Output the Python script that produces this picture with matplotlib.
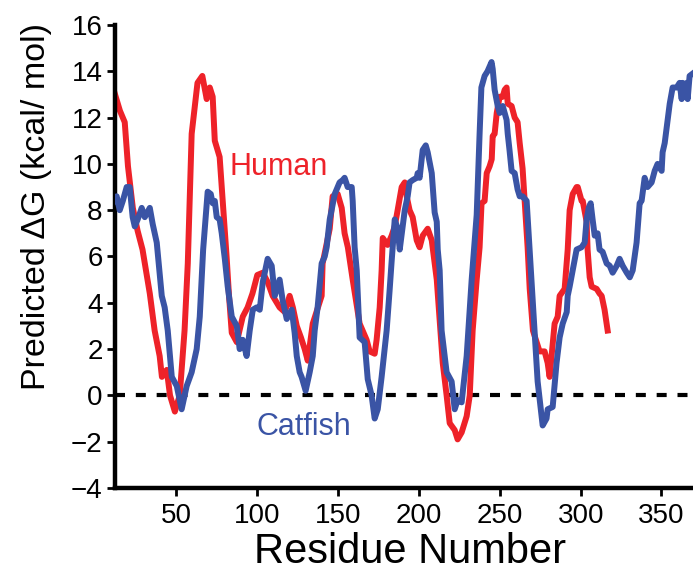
import matplotlib
matplotlib.use("Agg")
import matplotlib.pyplot as plt

plt.rcParams['font.family'] = ['Liberation Sans', 'DejaVu Sans']

# Human (red) trace, residue vs predicted dG
human_x = [12, 15, 18, 20, 23, 26, 29, 33.5, 36.5, 39.6, 41, 44, 46, 49, 52, 55, 57, 59.4,
           63, 66, 68.7, 70.6, 72.4, 73.7, 76.7, 78.6, 81, 82.5, 84.2, 87.3, 91, 94, 97, 100,
           103.4, 106.4, 109.5, 113.8, 117, 120, 122, 124.4, 127, 129.3, 131.2, 134.3, 139.8,
           140.4, 144.8, 146.6, 149.7, 152.2, 154, 156, 159, 163.3, 167.6, 169.5, 172.6, 173.8,
           175.7, 176.9, 177.6, 180.6, 183.1, 185, 186.8, 189.3, 191.2, 192.4, 194.2, 196.1,
           198.6, 200.4, 202.3, 205.4, 207.9, 209.7, 211, 214.7, 217.1, 219, 222.1, 223.9,
           226.4, 229.5, 231.4, 233.2, 235.7, 237.5, 238.7, 240.6, 241.9, 243.7, 245, 245.6,
           246.8, 248.1, 249.9, 251.8, 253, 254.2, 254.9, 257.3, 259.2, 261, 262.3, 264.1,
           265.4, 267.2, 268.5, 270.5, 274.6, 277.7, 279.6, 280.8, 283.9, 285.8, 287, 290.1,
           292, 293.2, 295.1, 297.5, 298.2, 300.6, 301.3, 303.7, 304.3, 305.6, 306.8, 309.9,
           311.7, 313, 314.8, 316.1, 316.7]
human_y = [13.0, 12.3, 11.8, 9.9, 8.1, 7.1, 6.3, 4.4, 2.8, 1.7, 0.8, 1.1, 0.0, -0.7, 0.0, 2.8,
           5.7, 11.3, 13.5, 13.8, 12.8, 13.3, 12.9, 11.0, 10.3, 8.4, 6.0, 4.3, 2.7, 2.3, 3.4,
           3.8, 4.4, 5.2, 5.3, 4.9, 4.3, 3.8, 3.6, 4.3, 3.8, 3.0, 2.5, 2.0, 1.5, 3.1, 4.3, 5.7,
           7.2, 8.6, 8.7, 8.1, 7.0, 6.4, 5.0, 3.1, 2.4, 1.9, 1.8, 2.4, 3.8, 5.4, 6.8, 6.5, 6.9,
           7.3, 8.0, 9.0, 9.2, 8.6, 8.0, 7.7, 6.7, 6.4, 6.9, 7.2, 6.7, 5.7, 5.0, 1.4, 0.0, -1.2,
           -1.5, -1.9, -1.6, -0.9, 0.0, 2.8, 5.0, 6.4, 8.3, 8.4, 9.6, 9.9, 10.2, 11.2, 11.3,
           12.2, 12.9, 12.9, 13.2, 13.3, 12.6, 12.5, 12.0, 11.8, 10.9, 9.8, 8.4, 6.4, 4.6, 2.8,
           1.9, 1.9, 1.4, 0.8, 3.1, 3.4, 4.3, 4.6, 6.3, 8.0, 8.7, 9.0, 9.0, 8.4, 8.4, 7.5, 6.3,
           5.1, 4.7, 4.6, 4.4, 4.3, 3.7, 3.1, 2.8]

# Catfish (blue) trace
catfish_x = [12, 13, 14.9, 16.8, 19.2, 21.1, 22.9, 24.2, 26, 28.5, 30.4, 33.5, 35.3, 37.8,
             40.9, 42.7, 44.6, 47.1, 50.2, 53.2, 56.3, 59.4, 62.5, 64.4, 66.5, 69.3, 71.2,
             72.4, 73.7, 74.9, 76.7, 78, 79.9, 81.7, 84.2, 87.3, 89.1, 91, 93.4, 95.3, 97.2,
             99.6, 101.5, 103.4, 106.4, 108.9, 110.8, 113.8, 115.7, 118.2, 121.3, 123.1, 124.4,
             126.2, 127.4, 129.9, 132.4, 134.3, 135.5, 137.3, 139.8, 141.7, 142.9, 144.8, 147.9,
             150.9, 152.8, 154, 155.9, 158.4, 159, 160.2, 161.5, 163.3, 166.4, 168.3, 170.7,
             172.6, 174.5, 176.9, 180, 181.8, 183.1, 185, 186.8, 188.1, 191.2, 193, 194.2, 196.1,
             198.6, 199.2, 200.4, 202.3, 204.2, 205.4, 207.9, 209.7, 211, 211.6, 212.8, 214,
             217.1, 220.2, 222.1, 223.9, 226.4, 229.5, 232.6, 235.7, 237.5, 238.6, 240.6, 242.4,
             244.9, 245.6, 246.8, 248.7, 249.9, 251.8, 254.2, 254.9, 256, 257.3, 259.2, 261,
             262.3, 264.1, 266.6, 271.5, 273.4, 276.5, 278.9, 279.6, 282.7, 285.1, 287, 288.9,
             291.4, 292, 293.2, 295.1, 297.5, 300.6, 302.5, 303.7, 305, 306.2, 307.4, 308.7,
             310.5, 311.7, 313.6, 316.1, 318, 319.8, 322.3, 324.1, 326, 328.5, 330.4, 332.2,
             334.6, 336.5, 337.7, 339.6, 341.4, 343.9, 345.8, 347.6, 350.1, 350.7, 352, 353.8,
             355.1, 356.9, 359.4, 361.2, 362.5, 363.1, 364.3, 365.6, 366.2, 367.4, 369.3]
catfish_y = [8.4, 8.6, 8.0, 8.4, 9.0, 9.0, 7.7, 7.3, 7.6, 8.1, 7.7, 8.1, 7.4, 6.6, 4.3, 3.8,
             2.8, 0.8, 0.4, -0.6, 0.4, 1.0, 2.0, 3.4, 6.3, 8.8, 8.7, 8.3, 8.4, 7.7, 7.6, 7.0,
             5.9, 4.7, 3.4, 3.0, 2.0, 2.4, 1.7, 2.8, 3.7, 3.8, 3.7, 4.9, 5.9, 5.6, 4.3, 5.0, 4.1,
             3.3, 3.7, 2.7, 1.7, 1.0, 0.8, 0.2, 1.0, 1.7, 2.8, 3.8, 5.7, 6.0, 6.4, 7.6, 8.7, 9.2,
             9.3, 9.4, 9.0, 9.0, 8.4, 6.4, 5.4, 2.5, 2.3, 0.7, 0.0, -1.0, -0.6, 0.8, 2.8, 4.5,
             5.8, 7.6, 7.2, 6.3, 8.0, 8.6, 9.2, 9.3, 9.4, 9.6, 9.4, 10.6, 10.8, 10.5, 9.6, 7.9,
             7.5, 6.3, 5.4, 2.8, 1.0, 0.6, -0.6, -0.2, -0.3, 1.7, 5.0, 7.8, 11.3, 13.3, 13.8,
             14.0, 14.4, 14.1, 13.2, 12.5, 12.2, 12.5, 11.9, 11.3, 10.6, 9.7, 9.6, 8.9, 8.6, 8.6,
             8.4, 2.8, 0.6, -1.3, -1.0, -0.6, -0.5, 1.4, 2.5, 3.1, 3.6, 4.3, 4.7, 5.4, 6.3, 6.4,
             6.6, 7.6, 8.1, 8.3, 7.6, 6.9, 7.0, 6.3, 6.2, 5.7, 5.6, 5.3, 5.6, 5.9, 5.6, 5.3, 5.1,
             5.4, 6.6, 8.3, 8.4, 9.4, 9.0, 9.2, 9.7, 10.0, 9.7, 10.5, 10.9, 11.9, 12.6, 13.3,
             13.3, 13.5, 12.8, 13.5, 12.9, 13.5, 12.8, 13.8, 13.9]

x_ticks = [50, 100, 150, 200, 250, 300, 350]
y_ticks = [-4, -2, 0, 2, 4, 6, 8, 10, 12, 14, 16]

red = '#ee2229'
blue = '#3a54a5'

fig = plt.figure(figsize=(6.93, 5.71), dpi=100)
ax = fig.add_axes([0.166, 0.1454, 0.834, 0.8108])

ax.axhline(0, color='black', lw=3, linestyle=(0, (2.4, 2.6)), zorder=1)
ax.plot(human_x, human_y, color=red, lw=4.3, solid_joinstyle='round', zorder=2)
ax.plot(catfish_x, catfish_y, color=blue, lw=4.3, solid_joinstyle='round', zorder=3)

ax.set_xlim(12, 369.5)
ax.set_ylim(-4, 16)
ax.set_xticks(x_ticks)
ax.set_yticks(y_ticks)

for side in ['top', 'right']:
    ax.spines[side].set_visible(False)
for side in ['left', 'bottom']:
    ax.spines[side].set_linewidth(3.2)
ax.tick_params(axis='both', direction='out', length=6, width=2, labelsize=20, pad=3)
ax.tick_params(axis='x', pad=5)

ax.text(83, 9.5, 'Human', color=red, fontsize=22)
ax.text(99.4, -1.7, 'Catfish', color=blue, fontsize=22)

fig.text(410 / 693, 1 - 563 / 571, 'Residue Number', fontsize=30, ha='center', va='baseline')
fig.text(37 / 693, 1 - 207 / 571, 'Predicted \u0394G (kcal/ mol)', fontsize=24.5,
         rotation=90, ha='center', va='center')

fig.savefig('out.png', dpi=100)
